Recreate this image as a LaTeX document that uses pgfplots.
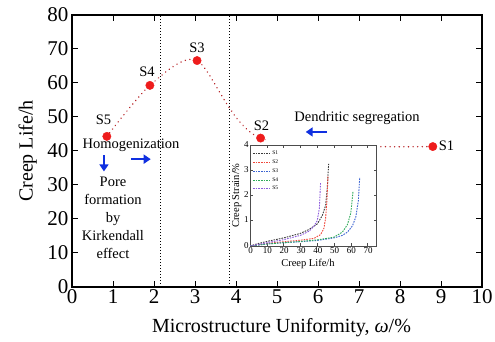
\documentclass[border=0pt]{standalone}
\usepackage{fontspec}
\setmainfont{Liberation Serif}
\usepackage{pgfplots}
\pgfplotsset{compat=1.18}
\usetikzlibrary{arrows.meta}
\definecolor{dred}{HTML}{B8262A}
\definecolor{mred}{HTML}{EE1C1C}
\definecolor{arrblue}{HTML}{1030E0}
\definecolor{cS1}{HTML}{3C3C3C}
\definecolor{cS2}{HTML}{F0483C}
\definecolor{cS3}{HTML}{3C64D2}
\definecolor{cS4}{HTML}{2EAA5A}
\definecolor{cS5}{HTML}{8C5ADC}
\begin{document}
\begin{tikzpicture}[x=1pt,y=1pt]
\useasboundingbox (0,0) rectangle (495,342);
\begin{axis}[
  at={(72pt,55pt)}, anchor=south west,
  scale only axis, width=410pt, height=272pt,
  xmin=0, xmax=10, ymin=0, ymax=80,
  xtick={0,1,...,10}, ytick={0,10,...,80},
  tick align=inside, major tick length=6pt,
  axis line style={line width=1.2pt},
  every tick/.style={black, line width=1pt},
  /pgf/number format/assume math mode=true,
  ticklabel style={font=\fontsize{21}{21}\selectfont},
  xticklabel style={yshift=1pt},
  xlabel={Microstructure Uniformity, \textit{ω}/\%},
  ylabel={Creep Life/h},
  label style={font=\fontsize{20}{20}\selectfont},
  xlabel style={at={(axis description cs:0.511,-0.151)}, anchor=center},
  ylabel style={at={(axis description cs:-0.108,0.5)}, anchor=center},
  clip=false,
]
\addplot[black, dotted, line width=1pt] coordinates {(2.17,0) (2.17,80)};
\addplot[black, dotted, line width=1pt] coordinates {(3.85,0) (3.85,80)};
\addplot[dred, smooth, tension=0.45, line width=1.5pt, dash pattern=on 0.1pt off 4.5pt, line cap=round]
  coordinates {(0.85,44.3) (1.9,59.3) (3.05,66.6) (4.6,43.8) (8.8,41.3)};
\addplot[only marks, mark=*, mark size=4.2pt, mred, mark options={draw=mred, fill=mred}]
  coordinates {(0.85,44.3) (1.9,59.3) (3.05,66.6) (4.6,43.8) (8.8,41.3)};
\begin{scope}[font=\fontsize{14.5}{14.5}\selectfont]
\node at (axis cs:0.77,49.3) {S5};
\node at (axis cs:1.83,63.2) {S4};
\node at (axis cs:3.05,70.4) {S3};
\node at (axis cs:4.62,47.4) {S2};
\node[anchor=west, inner sep=1pt] at (axis cs:8.92,41.4) {S1};
\node at (axis cs:1.44,41.6) {Homogenization};
\node at (axis cs:6.95,49.7) {Dendritic segregation};
\node[align=center, font=\fontsize{14.5}{18}\selectfont] at (axis cs:1.0,20.3) {Pore\\formation\\by\\Kirkendall\\effect};
\end{scope}
\draw[arrblue, line width=1.6pt, -{Triangle[length=7pt,width=9pt]}] (axis cs:0.78,38.8) -- (axis cs:0.78,34.0);
\draw[arrblue, line width=1.6pt, -{Triangle[length=7pt,width=9pt]}] (axis cs:1.45,37.6) -- (axis cs:1.92,37.6);
\draw[arrblue, line width=1.6pt, -{Triangle[length=7pt,width=9pt]}] (axis cs:6.22,45.6) -- (axis cs:5.7,45.6);
\end{axis}
\fill[white] (233,66) rectangle (378,197);
\fill[white] (266,196) rectangle (378,205);
\begin{axis}[
  at={(250pt,96pt)}, anchor=south west,
  scale only axis, width=126pt, height=101pt,
  xmin=0, xmax=75, ymin=0, ymax=4,
  xtick={0,10,...,70}, ytick={0,1,...,4},
  tick align=inside, major tick length=2.5pt,
  axis background/.style={fill=white},
  axis line style={black!70, line width=0.9pt},
  every tick/.style={black!70, line width=0.6pt},
  /pgf/number format/assume math mode=true,
  ticklabel style={font=\fontsize{9}{9}\selectfont, inner sep=0.5pt},
  xticklabel style={yshift=-0.8pt, xshift=0.6pt},
  yticklabel style={xshift=-0.6pt, yshift=0.8pt},
  label style={font=\fontsize{10.5}{10.5}\selectfont},
  xlabel={Creep Life/h},
  ylabel={Creep Strain/\%},
  xlabel style={at={(axis description cs:0.46,-0.18)}, anchor=center},
  ylabel style={at={(axis description cs:-0.105,0.5)}, anchor=center},
  legend style={at={(0.01,0.97)}, anchor=north west, draw=none, fill=none,
    font=\fontsize{5.5}{5.5}\selectfont, row sep=-0.4pt, inner sep=1pt},
  legend cell align=left,
  every axis plot/.append style={line width=0.9pt, dash pattern=on 1.6pt off 1.1pt},
]
\addplot[cS1] coordinates {(0,0) (5,0.1) (10,0.18) (20,0.32) (30,0.5) (35,0.65) (40,0.87) (43,1.2) (45,1.6) (46,2.3) (46.8,3.25)};
\addplot[cS2] coordinates {(0,0) (10,0.1) (20,0.17) (30,0.23) (38,0.3) (42,0.45) (44,0.7) (45,1.1) (45.8,1.8) (46.4,2.75)};
\addplot[cS3] coordinates {(0,0) (10,0.08) (20,0.13) (30,0.17) (40,0.22) (50,0.32) (55,0.42) (58,0.55) (61,0.8) (63,1.15) (64.5,1.8) (65.3,2.72)};
\addplot[cS4] coordinates {(0,0) (10,0.08) (20,0.13) (30,0.18) (40,0.24) (50,0.35) (55,0.55) (58,0.85) (60,1.3) (61.3,2.15)};
\addplot[cS5] coordinates {(0,0) (10,0.13) (20,0.25) (30,0.42) (35,0.58) (38,0.78) (40,1.0) (41.3,1.5) (42,2.5)};
\legend{S1,S2,S3,S4,S5}
\end{axis}
\end{tikzpicture}
\end{document}
